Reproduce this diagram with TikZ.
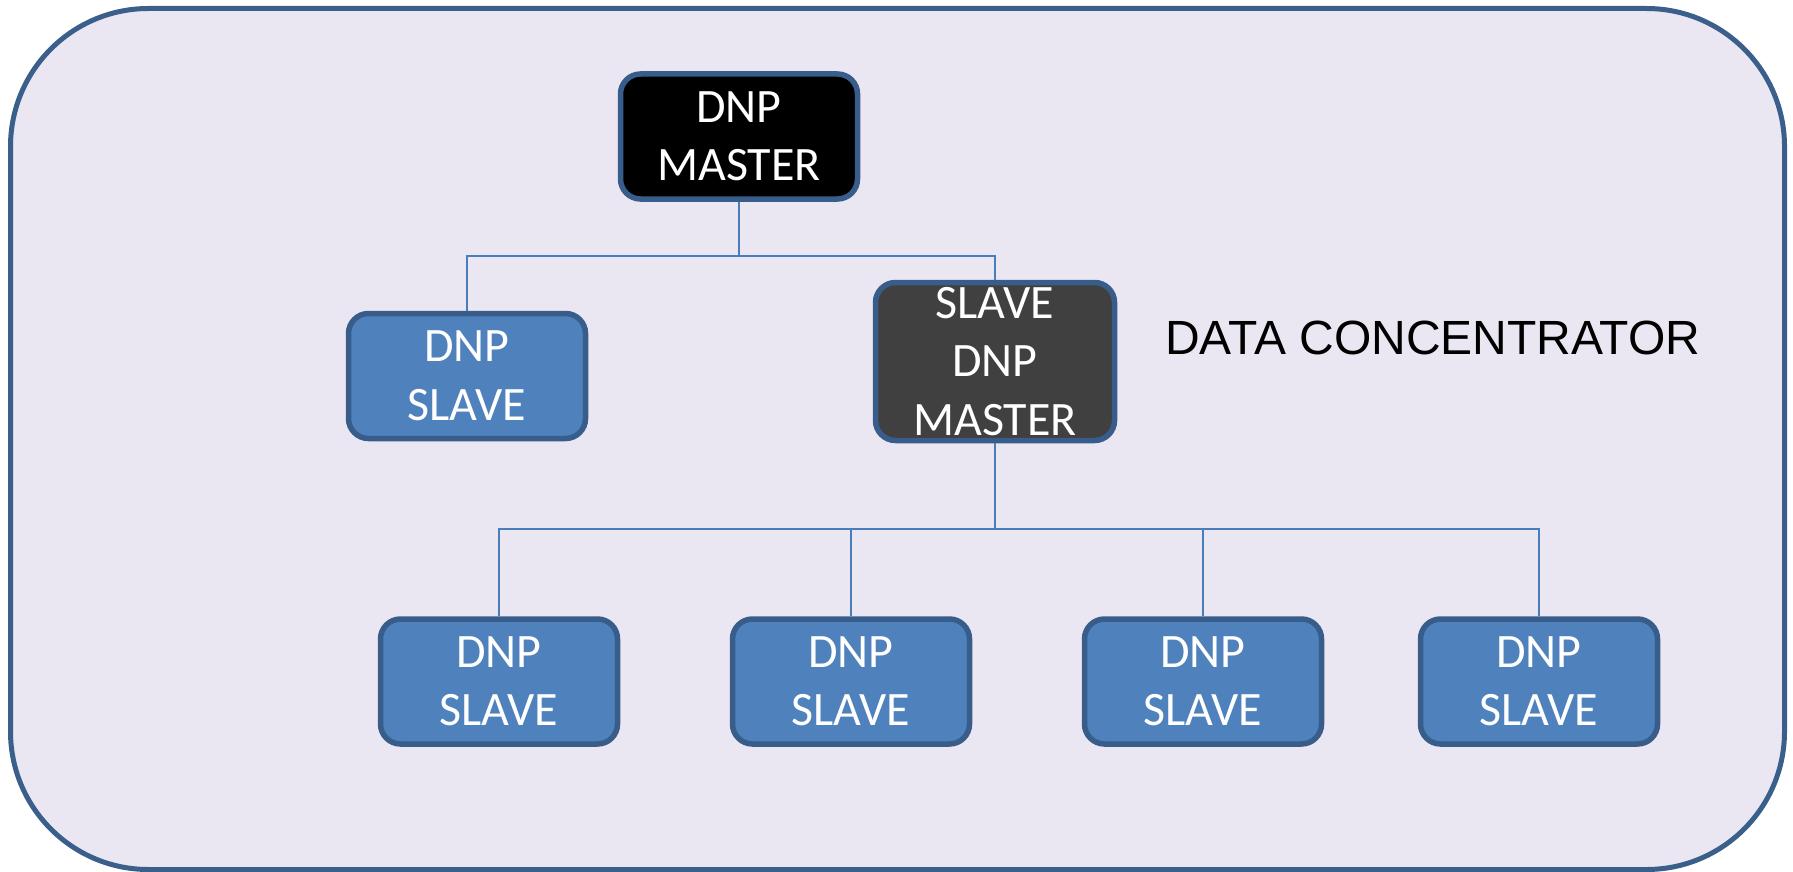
\documentclass[tikz,border=0pt]{standalone}
\usepackage{fontspec}
\newfontfamily\boxfont{Carlito}
\newfontfamily\labelfont{Liberation Sans}
\definecolor{bgfill}{RGB}{234,231,242}
\definecolor{frameblue}{RGB}{58,95,139}
\definecolor{boxfill}{RGB}{79,129,189}
\definecolor{boxborder}{RGB}{56,93,138}
\definecolor{conncol}{RGB}{74,126,187}
\definecolor{darkfill}{RGB}{64,64,64}
\begin{document}
\begin{tikzpicture}[x=1pt,y=-1pt,
  unitbox/.style={draw=boxborder, line width=5.5pt, rounded corners=20pt, fill=boxfill,
    text=white, align=center, inner sep=0pt, minimum width=237pt, minimum height=125pt,
    font=\boxfont\fontsize{48}{58.5}\selectfont},
  conn/.style={draw=conncol, line width=2pt},
  outerframe/.style={draw=frameblue, line width=5pt, fill=bgfill, rounded corners=138pt}]
\useasboundingbox (0,0) rectangle (1793,872);
\path[outerframe] (10.5,8.5) rectangle (1784.5,869.5);

\node[unitbox, fill=black] (m) at (739,136.5) {DNP\\MASTER};
\node[unitbox] (s1) at (467,376) {DNP\\SLAVE};
\node[unitbox, fill=darkfill, minimum width=239pt, minimum height=158pt] (sm) at (995,361.5) {SLAVE\\DNP\\MASTER};
\node[unitbox] (b1) at (499,681.5) {DNP\\SLAVE};
\node[unitbox] (b2) at (851,681.5) {DNP\\SLAVE};
\node[unitbox] (b3) at (1203,681.5) {DNP\\SLAVE};
\node[unitbox] (b4) at (1539,681.5) {DNP\\SLAVE};

\node[anchor=base west, inner sep=0pt, font=\labelfont\fontsize{48}{56}\selectfont] (dc) at (1165,354) {DATA CONCENTRATOR};

\draw[conn] (m.south) -- ++(0,54) coordinate (j1) -| (s1.north);
\draw[conn] (j1) -| (sm.north);
\draw[conn] (sm.south) -- ++(0,85.5) coordinate (j2);
\draw[conn] (j2) -| (b1.north);
\draw[conn] (j2) -| (b2.north);
\draw[conn] (j2) -| (b3.north);
\draw[conn] (j2) -| (b4.north);
\end{tikzpicture}
\end{document}
